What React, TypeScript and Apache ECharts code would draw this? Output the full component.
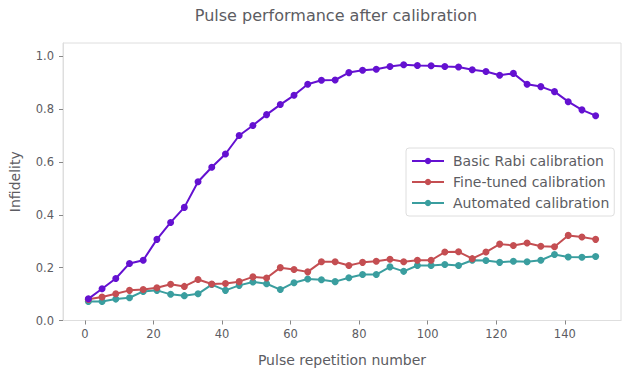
import React, { useEffect, useRef } from "react";
import * as echarts from "echarts";

const pulseNumbers = [1, 5, 9, 13, 17, 21, 25, 29, 33, 37, 41, 45, 49, 53, 57, 61, 65, 69, 73, 77, 81, 85, 89, 93, 97, 101, 105, 109, 113, 117, 121, 125, 129, 133, 137, 141, 145, 149];

const basicRabi = [0.082, 0.12, 0.159, 0.216, 0.228, 0.307, 0.371, 0.428, 0.525, 0.58, 0.63, 0.70, 0.738, 0.779, 0.817, 0.852, 0.894, 0.909, 0.91, 0.938, 0.947, 0.951, 0.961, 0.968, 0.965, 0.964, 0.961, 0.959, 0.949, 0.942, 0.928, 0.935, 0.894, 0.885, 0.866, 0.828, 0.797, 0.775];

const fineTuned = [0.08, 0.089, 0.101, 0.114, 0.117, 0.124, 0.137, 0.129, 0.155, 0.138, 0.14, 0.147, 0.165, 0.161, 0.20, 0.193, 0.184, 0.222, 0.222, 0.208, 0.22, 0.224, 0.232, 0.222, 0.228, 0.228, 0.259, 0.26, 0.234, 0.259, 0.289, 0.284, 0.293, 0.281, 0.279, 0.322, 0.316, 0.307];

const automated = [0.072, 0.072, 0.081, 0.086, 0.11, 0.114, 0.099, 0.094, 0.101, 0.136, 0.114, 0.133, 0.146, 0.139, 0.117, 0.143, 0.157, 0.154, 0.147, 0.162, 0.174, 0.174, 0.203, 0.186, 0.208, 0.208, 0.212, 0.208, 0.228, 0.227, 0.22, 0.224, 0.222, 0.228, 0.25, 0.24, 0.239, 0.242];

const seriesNames = ["Basic Rabi calibration", "Fine-tuned calibration", "Automated calibration"];
const xTicks = [0, 20, 40, 60, 80, 100, 120, 140];
const yTicks = [0, 0.2, 0.4, 0.6, 0.8, 1.0];

const FONT = "DejaVu Sans";
const TEXT = "#5c5c62";
const SPINE = "#dedede";

export default function App() {
  const ref = useRef<HTMLDivElement>(null);
  useEffect(() => {
    if (!ref.current) return;
    const chart = echarts.init(ref.current, undefined, { renderer: "svg" });
    const colors = ["#6411d1", "#c44e52", "#3a9e9f"];
    const datasets = [basicRabi, fineTuned, automated];
    chart.setOption({
      animation: false,
      backgroundColor: "#ffffff",
      title: {
        text: "Pulse performance after calibration",
        left: 331,
        top: 2,
        textAlign: "center",
        textStyle: { fontFamily: FONT, fontSize: 16, fontWeight: "normal", color: TEXT },
      },
      grid: {
        left: 63,
        right: 6,
        top: 43,
        bottom: 55.5,
        show: true,
        borderColor: SPINE,
        borderWidth: 1,
        backgroundColor: "transparent",
      },
      legend: {
        orient: "vertical",
        left: 406,
        top: 148,
        padding: [6, 5, 6, 5],
        itemGap: 7,
        itemWidth: 32,
        itemHeight: 8,
        backgroundColor: "#ffffff",
        borderColor: SPINE,
        borderWidth: 1,
        borderRadius: 3,
        textStyle: { fontFamily: FONT, fontSize: 14, color: TEXT, padding: [0, 0, 0, 4] },
        data: seriesNames,
      },
      xAxis: {
        type: "value",
        min: -6.4,
        max: 156.4,
        name: "Pulse repetition number",
        nameLocation: "middle",
        nameGap: 32,
        nameTextStyle: { fontFamily: FONT, fontSize: 14, color: TEXT },
        axisLine: { show: true, onZero: false, lineStyle: { color: SPINE } },
        axisTick: { show: true, length: 4, customValues: xTicks, lineStyle: { color: "#888" } },
        axisLabel: { customValues: xTicks, margin: 7, fontFamily: FONT, fontSize: 11.5, color: TEXT },
        splitLine: { show: false },
      },
      yAxis: {
        type: "value",
        min: 0,
        max: 1.05,
        name: "Infidelity",
        nameLocation: "middle",
        nameGap: 41,
        nameTextStyle: { fontFamily: FONT, fontSize: 14, color: TEXT },
        axisLine: { show: true, onZero: false, lineStyle: { color: SPINE } },
        axisTick: { show: true, length: 4, customValues: yTicks, lineStyle: { color: "#888" } },
        axisLabel: {
          customValues: yTicks,
          margin: 9,
          fontFamily: FONT,
          fontSize: 11.5,
          color: TEXT,
          formatter: (v: number) => v.toFixed(1),
        },
        splitLine: { show: false },
      },
      series: datasets.map((d, i) => ({
        name: seriesNames[i],
        type: "line",
        data: d.map((v, j) => [pulseNumbers[j], v]),
        symbol: "circle",
        symbolSize: 7,
        showSymbol: true,
        color: colors[i],
        lineStyle: { width: 2, color: colors[i] },
        itemStyle: { color: colors[i] },
        z: 3 - i,
      })),
    });
    return () => chart.dispose();
  }, []);
  return <div ref={ref} style={{ width: 627, height: 376, position: "absolute", left: 0, top: 0 }} />;
}
